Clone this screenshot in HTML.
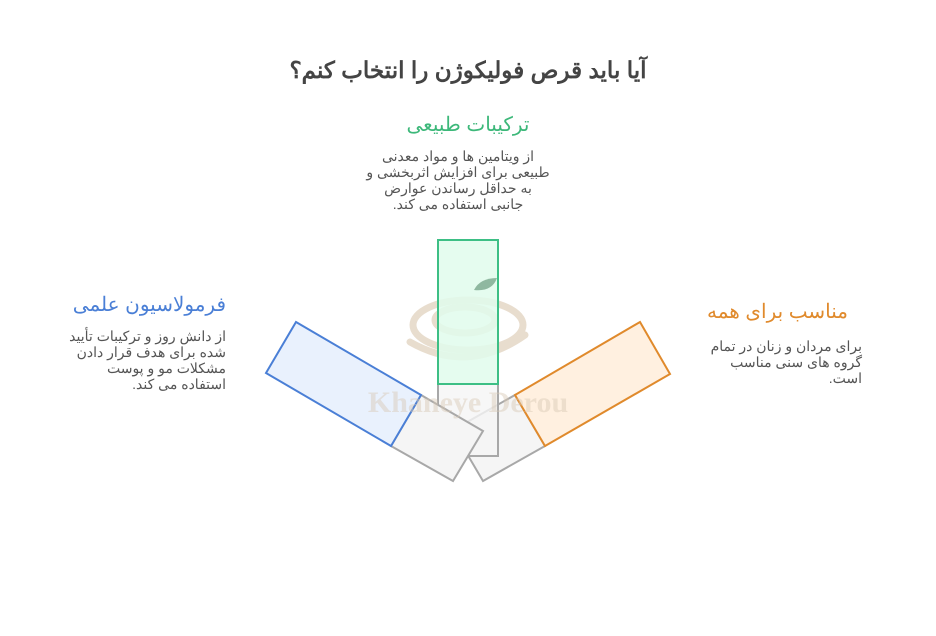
<!DOCTYPE html>
<html><head><meta charset="utf-8"><style>
body{margin:0;width:936px;height:636px;background:#fff;font-family:"Liberation Sans","Noto Sans CJK SC",sans-serif;position:relative;overflow:hidden}
.t{position:absolute;direction:rtl;white-space:nowrap}
.d{position:absolute;direction:rtl;font-size:14px;line-height:16px;color:#555;white-space:nowrap}
</style></head><body>
<div class="t" style="left:0;width:936px;text-align:center;top:57px;font-size:23px;font-weight:bold;color:#444">آیا باید قرص فولیکوژن را انتخاب کنم؟</div>
<div class="t" style="left:0;width:936px;text-align:center;top:112px;font-size:20px;color:#3db87a">ترکیبات طبیعی</div>
<div class="d" style="left:340px;width:236px;text-align:center;top:148px">از ویتامین ها و مواد معدنی<br>طبیعی برای افزایش اثربخشی و<br>به حداقل رساندن عوارض<br>جانبی استفاده می کند.</div>
<div class="t" style="left:30px;width:196px;text-align:right;top:292px;font-size:20px;color:#4a7fd6">فرمولاسیون علمی</div>
<div class="d" style="left:30px;width:196px;text-align:right;top:328px">از دانش روز و ترکیبات تأیید<br>شده برای هدف قرار دادن<br>مشکلات مو و پوست<br>استفاده می کند.</div>
<div class="t" style="left:690px;width:158px;text-align:right;top:299px;font-size:20px;color:#e08a2c">مناسب برای همه</div>
<div class="d" style="left:690px;width:172px;text-align:right;top:338px">برای مردان و زنان در تمام<br>گروه های سنی مناسب<br>است.</div>
<svg width="936" height="636" style="position:absolute;left:0;top:0">
<g fill="none" stroke="#e3d5c3" stroke-width="7" opacity="0.8" stroke-linecap="round">
<ellipse cx="468" cy="325" rx="55" ry="25"/><ellipse cx="465" cy="320" rx="30" ry="13"/><path d="M410 342 Q468 375 525 335"/>
</g>
<polygon points="483,481 453,430 515,395 545,446" fill="#f5f5f5" stroke="#a8a8a8" stroke-width="2"/>
<rect x="438" y="384" width="60" height="72" fill="#f5f5f5" fill-opacity="0.8" stroke="#a8a8a8" stroke-width="2"/>
<rect x="438" y="240" width="60" height="144" fill="#e0fbec" fill-opacity="0.85" stroke="#3dbf85" stroke-width="2"/>
<path d="M474 290 Q480 278 497 278 Q492 292 474 290Z" fill="#8fb8a0"/>
<polygon points="515,395 640,322 670,374 545,446" fill="#fff0e0" stroke="#e08a2c" stroke-width="2"/>
<polygon points="391,446 421,395 483,431 453,481" fill="#f5f5f5" stroke="#a8a8a8" stroke-width="2"/>
<polygon points="266,373 296,322 421,395 391,446" fill="#e9f1fd" stroke="#4a7fd6" stroke-width="2"/>
<text x="468" y="412" text-anchor="middle" font-family="Liberation Serif,serif" font-size="30" font-weight="bold" fill="#d8c8b4" fill-opacity="0.45">Khaneye Derou</text>
</svg>
</body></html>
